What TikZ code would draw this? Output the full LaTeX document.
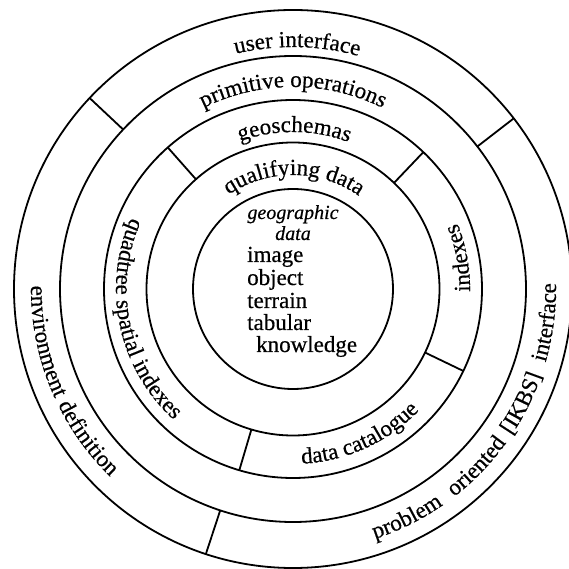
\documentclass[tikz,border=0pt]{standalone}
\usepackage{fontspec}
\setmainfont{Liberation Serif}[FakeBold=0.5]
\usetikzlibrary{decorations.text}
\newcommand\ringfont{\fontsize{23}{27}\selectfont}
\newcommand\geofont{\fontsize{20}{24}\selectfont\itshape}

\tikzset{
  x=1pt, y=1pt,
  ring/.style={line width=1.8pt},
  divider/.style={line width=1.8pt},
  ringtext/.style={decorate, decoration={text along path, text align=center, text={|\ringfont|#1}}},
  core/.style={inner sep=0pt, font=\ringfont, anchor=base west},
  corehead/.style={inner sep=0pt, font=\geofont, anchor=base},
}

\begin{document}
\begin{tikzpicture}
  \useasboundingbox (-293,-280) rectangle (276,289);
  \clip (-293,-280) rectangle (276,289);
  \fill[white] (-293,-280) rectangle (276,289);
  \coordinate (C) at (0,0);

  % concentric rings
  \draw[ring] (C) circle[radius=279];
  \draw[ring] (C) circle[radius=233];
  \draw[ring] (C) circle[radius=189];
  \draw[ring] (C) circle[radius=146.5];
  \draw[ring] (C) circle[radius=100];

  % dividers of the outer band
  \draw[divider] (136.8:233) -- (136.8:279);
  \draw[divider] (37.7:233) -- (37.7:279);
  \draw[divider] (251.8:233) -- (251.8:279);

  % dividers of the third band
  \draw[divider] (131.5:146.5) -- (131.5:189);
  \draw[divider] (46.4:146.5) -- (46.4:189);
  \draw[divider] (334.3:146.5) -- (334.3:189);
  \draw[divider] (253.5:146.5) -- (253.5:189);

  % labels running clockwise over the top
  \path[ringtext={user interface}] (134:242) arc[start angle=134, end angle=44, radius=242];
  \path[ringtext={primitive operations}] (150:202) arc[start angle=150, end angle=30, radius=202];
  \path[ringtext={geoschemas}] (129.5:157) arc[start angle=129.5, end angle=49.5, radius=157];
  \path[ringtext={qualifying data}] (160:114) arc[start angle=160, end angle=19, radius=114];

  % labels running anticlockwise, word by word where the spacing is wide
  \path[ringtext={environment}] (172:262) arc[start angle=172, end angle=212, radius=262];
  \path[ringtext={definition}] (196:262) arc[start angle=196, end angle=236, radius=262];
  \path[ringtext={quadtree spatial indexes}] (132:177) arc[start angle=132, end angle=252, radius=177];
  \path[ringtext={indexes}] (-20:177) arc[start angle=-20, end angle=41, radius=177];
  \path[ringtext={data catalogue}] (257:175) arc[start angle=257, end angle=332, radius=175];
  \path[ringtext={problem}] (276.5:263) arc[start angle=276.5, end angle=316.5, radius=263];
  \path[ringtext={oriented}] (296:263) arc[start angle=296, end angle=336, radius=263];
  \path[ringtext={[IKBS]}] (313.5:263) arc[start angle=313.5, end angle=353.5, radius=263];
  \path[ringtext={interface}] (332.5:263) arc[start angle=332.5, end angle=372.5, radius=263];

  % core contents
  \node[corehead] (geo) at (0,70) {geographic};
  \node[corehead] (dat) at (0,49) {data};
  \node[core] (img) at (-46,27) {image};
  \node[core] (obj) at (-46,4) {object};
  \node[core] (ter) at (-46,-19) {terrain};
  \node[core] (tab) at (-46,-41) {tabular};
  \node[core] (kno) at (-37,-63) {knowledge};
\end{tikzpicture}
\end{document}
